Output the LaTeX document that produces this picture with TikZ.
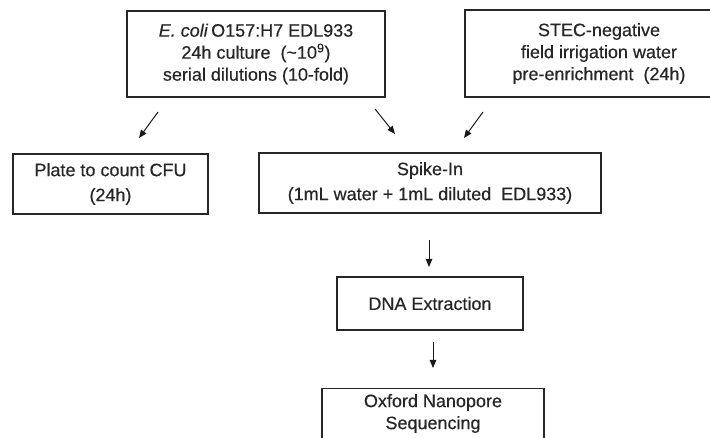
\documentclass[tikz,border=0pt]{standalone}
\usepackage{fontspec}
\setmainfont{Liberation Sans}[UprightFeatures={FakeBold=0.4}, ItalicFeatures={FakeBold=0.4}]
\usetikzlibrary{arrows.meta}

\begin{document}
\begin{tikzpicture}[x=1pt,y=-1pt,
  stepbox/.style={draw=black!85, line width=1.2pt, rectangle, align=center,
    text=black!85, inner sep=0pt, font=\fontsize{18}{22}\selectfont},
  widebox/.style={stepbox, font=\fontsize{18}{25}\selectfont},
  flow/.style={draw=black!90, line width=1pt,
    -{Triangle[length=8pt,width=6.5pt]}}]
\useasboundingbox (0,0) rectangle (710,438);

% top row: culture and water sample
\node[stepbox, minimum width=258pt, minimum height=86pt] (ecoli) at (256,54)
  {\textit{E. coli}\,O157:H7 EDL933\\24h culture \ (\textasciitilde10\textsuperscript{9})\\serial dilutions (10-fold)};
\node[stepbox, minimum width=268pt, minimum height=87pt] (water) at (599,53.5)
  {STEC-negative\\field irrigation water\\pre-enrichment \ (24h)};

% middle row
\node[widebox, minimum width=195pt, minimum height=60pt] (plate) at (110.5,184)
  {Plate to count CFU\\(24h)};
\node[widebox, minimum width=342pt, minimum height=60pt] (spike) at (430,183)
  {Spike-In\\(1mL water + 1mL diluted \ EDL933)};

% lower chain
\node[stepbox, minimum width=186pt, minimum height=53pt] (dna) at (430,303.5)
  {DNA Extraction};
\node[stepbox, minimum width=222pt, minimum height=80pt, anchor=north] (ont) at (433,388)
  {Oxford Nanopore\\Sequencing\\[12pt]};

% free-standing arrows between the rows
\coordinate (a1s) at (158,112); \coordinate (a1e) at (139,138);
\coordinate (a2s) at (375,109); \coordinate (a2e) at (395,134);
\coordinate (a3s) at (483,112); \coordinate (a3e) at (464,138);
\coordinate (a4s) at (429,240); \coordinate (a4e) at (429,267);
\coordinate (a5s) at (433,342); \coordinate (a5e) at (433,368);
\draw[flow] (a1s) -- (a1e);
\draw[flow] (a2s) -- (a2e);
\draw[flow] (a3s) -- (a3e);
\draw[flow] (a4s) -- (a4e);
\draw[flow] (a5s) -- (a5e);
\end{tikzpicture}
\end{document}
